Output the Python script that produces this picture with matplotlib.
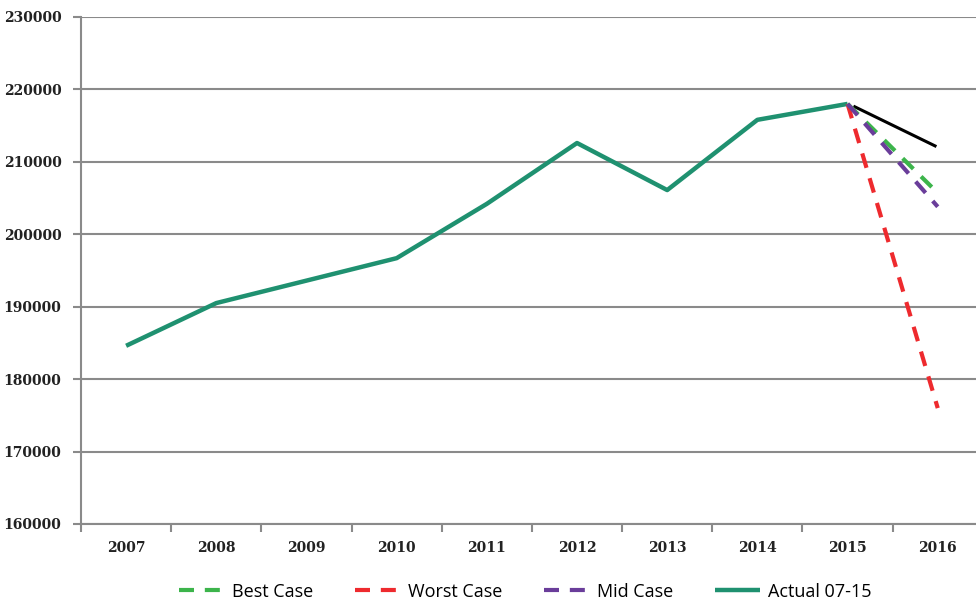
import numpy as np
import matplotlib.pyplot as plt

years = ['2007', '2008', '2009', '2010', '2011', '2012', '2013', '2014', '2015', '2016']
actual = [184600, 190500, 193600, 196700, 204200, 212600, 206100, 215800, 218000]
best_case = [218000, 205700]
worst_case = [218000, 176000]
mid_case = [218000, 203800]
# unlabelled black segment between 2015 and 2016
trend_x = [8.08, 8.97]
trend = [217600, 212200]

fig = plt.figure(figsize=(9.76, 6.02), dpi=100)
ax = fig.add_axes([0.083, 0.1296, 0.924, 0.8422])

grey = '#8a8a8a'
x = np.arange(len(years))

ax.plot(x[:len(actual)], actual, color='#1f9170', lw=3.2, solid_capstyle='butt',
        label='Actual 07-15', zorder=3)
ax.plot(trend_x, trend, color='black', lw=2.2, zorder=3)
ax.plot(x[8:], worst_case, color='#ee2a2e', lw=3, dashes=(3.6, 2.6),
        label='Worst Case', zorder=4)
ax.plot(x[8:], best_case, color='#3cb44b', lw=3, dashes=(3.6, 2.6),
        label='Best Case', zorder=4)
ax.plot(x[8:], mid_case, color='#6a3d9a', lw=3, dashes=(3.6, 2.6),
        label='Mid Case', zorder=5)

ax.set_xlim(-0.5, 9.5)
ax.set_ylim(160000, 230000)
ax.set_yticks(np.arange(160000, 230001, 10000))
ax.set_yticklabels([str(v) for v in range(160000, 230001, 10000)],
                   family='DejaVu Serif', fontsize=10, fontweight='bold', color='#222222')
ax.set_xticks(x)
ax.set_xticklabels(years, family='DejaVu Serif', fontsize=10, fontweight='bold', color='#222222')
ax.set_xticks(np.arange(-0.5, 9.6, 1), minor=True)
ax.tick_params(axis='x', which='major', length=0, pad=12)
ax.tick_params(axis='x', which='minor', length=6, width=1.5, color=grey)
ax.tick_params(axis='y', length=6, width=1.5, color=grey, pad=8)

ax.grid(axis='y', color=grey, lw=1.5)
ax.set_axisbelow(True)
for side in ['top', 'right']:
    ax.spines[side].set_visible(False)
for side in ['left', 'bottom']:
    ax.spines[side].set_color(grey)
    ax.spines[side].set_linewidth(1.5)

h, l = ax.get_legend_handles_labels()
order = ['Best Case', 'Worst Case', 'Mid Case', 'Actual 07-15']
hs = [h[l.index(o)] for o in order]
fig.legend(hs, order, loc='center', bbox_to_anchor=(0.538, 0.017), ncol=4,
           frameon=False, prop={'family': 'Open Sans', 'size': 13},
           handlelength=2.5, handletextpad=0.45, columnspacing=2.3)

fig.savefig('out.png', dpi=100)
